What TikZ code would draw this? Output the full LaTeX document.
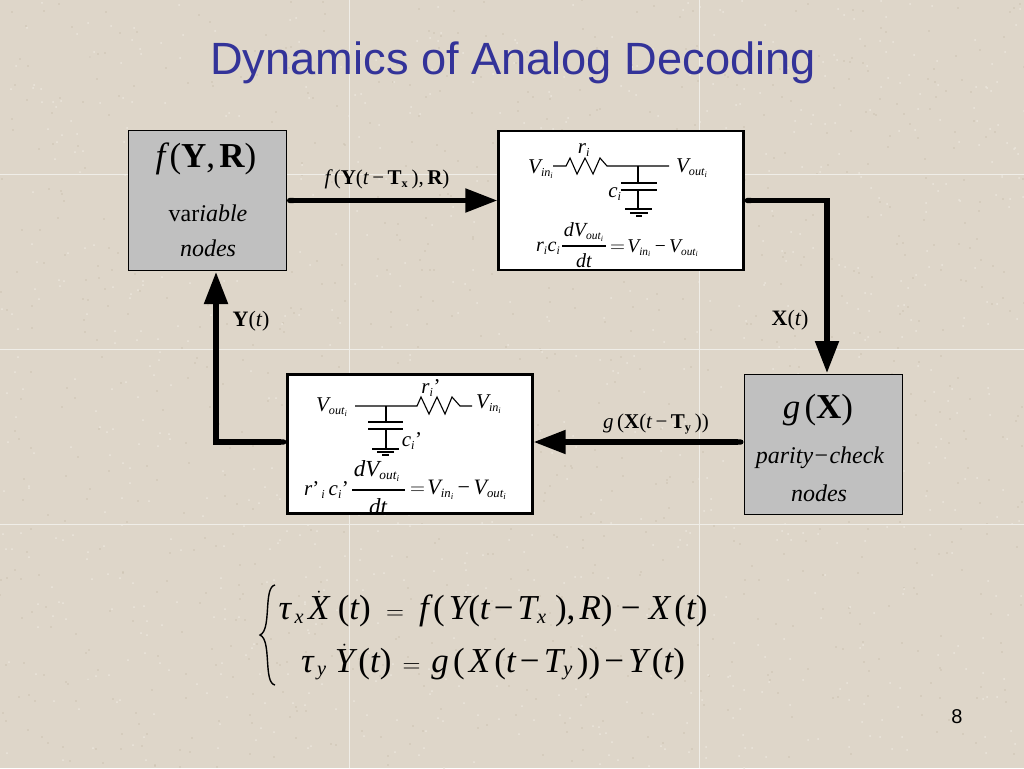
\documentclass[tikz,border=0pt]{standalone}
\usepackage{amsmath}
\usepackage{fontspec}
\setmainfont{Liberation Serif}
\usepackage[italic]{mathastext}
\newfontfamily\headfont{Liberation Sans}
\renewcommand{\defaultscriptratio}{.58}
\renewcommand{\defaultscriptscriptratio}{.4}
\usetikzlibrary{arrows.meta, positioning, calc}
\definecolor{slidecol}{RGB}{222,214,201}
\definecolor{speckdark}{RGB}{204,194,178}
\definecolor{specklight}{RGB}{235,230,220}
\definecolor{gridcol}{RGB}{240,238,232}
\definecolor{titlecol}{RGB}{51,51,153}
\definecolor{nodecol}{RGB}{192,192,192}
\newcommand{\fsz}[1]{\fontsize{#1}{#1}\selectfont}
\newcommand{\lp}{\mathopen{\text{\upshape(}}}
\newcommand{\rp}{\mathclose{\text{\upshape)}}}
\newcommand{\tick}{\text{\upshape'}}
\newcommand{\mn}{\text{\upshape−}}
\tikzset{
  varbox/.style={draw, fill=nodecol, line width=1pt, minimum width=158pt, minimum height=140pt, inner sep=0pt},
  circbox/.style={draw, fill=white, line width=2.4pt, minimum width=245pt, minimum height=139pt, inner sep=0pt},
  flow/.style={line width=5.2pt, {Round Cap}-{Triangle[length=32pt,width=23pt]}},
  wire/.style={line width=1.1pt},
  lab/.style={inner sep=0pt, font=\fsz{21}},
  nodetxt/.style={inner sep=0pt, font=\fsz{24}},
  bigeq/.style={inner sep=0pt, font=\fsz{35}}
}
\begin{document}
\begin{tikzpicture}[x=1pt, y=-1pt]
  \useasboundingbox (0,0) rectangle (1024,768);
  \fill[slidecol] (0,0) rectangle (1024,768);
  \pgfmathsetseed{8}
  \foreach \i in {1,...,900} {
    \pgfmathsetmacro{\xpos}{random(0,1024)}
    \pgfmathsetmacro{\ypos}{random(0,768)}
    \fill[speckdark] (\xpos,\ypos) circle (0.8pt);
    \pgfmathsetmacro{\xpos}{random(0,1024)}
    \pgfmathsetmacro{\ypos}{random(0,768)}
    \fill[specklight] (\xpos,\ypos) circle (1pt);
  }
  \foreach \xpos in {349,699}
    \draw[gridcol, line width=1pt] (\xpos,0) -- (\xpos,768);
  \foreach \ypos in {174,349,524}
    \draw[gridcol, line width=1pt] (0,\ypos) -- (1024,\ypos);

  \node[inner sep=0pt, text=titlecol, font=\headfont\fsz{45.2}] (title) at (513,63) {Dynamics of Analog Decoding};
  \node[inner sep=0pt, font=\headfont\fsz{20}] (pagenum) at (957,717) {8};

  \node[varbox] (var) at (207.5,200.5) {};
  \node[varbox] (parity) at (823,444) {};
  \node[circbox] (circa) at (621,200.5) {};
  \node[circbox] (circb) at (410,444) {};

  \node[bigeq] (varf) at (206,159) {$f\,\lp\mathbf{Y},\mathbf{R}\rp$};
  \node[nodetxt] (vartxt) at (208,213) {var\textit{iable}};
  \node[nodetxt] (varnd) at (208,248) {\textit{nodes}};
  \node[bigeq] (parg) at (818,410) {$g\,\lp\mathbf{X}\rp$};
  \node[nodetxt] (partxt) at (820,458) {$parity\mskip1mu\mn\mskip1mu check$};
  \node[nodetxt] (parnd) at (819,493) {\textit{nodes}};

  % feedback loop
  \coordinate (pn) at (827,373);
  \coordinate (vs) at (216,272);
  \draw[flow] (var.east) -- (circa.west);
  \draw[flow] (circa.east) -| (pn);
  \draw[flow] ([yshift=2pt]parity.west) -- ([yshift=2pt]circb.east);
  \draw[flow] ([yshift=2pt]circb.west) -| (vs);

  \node[lab] (lbla) at (387,179) {$f\,\lp\mathbf{Y}\lp t\,\mn\,\mathbf{T}_{\mathbf{x}}\,\rp,\mathbf{R}\rp$};
  \node[lab, font=\fsz{22}] (lblb) at (790,320) {$\mathbf{X}\lp t\rp$};
  \node[lab] (lblc) at (656,424) {$g\,\lp\mathbf{X}\lp t\,\mn\,\mathbf{T}_{\mathbf{y}}\,\rp\rp$};
  \node[lab, font=\fsz{22}] (lbld) at (251,321) {$\mathbf{Y}\lp t\rp$};

  % first circuit
  \draw[wire] (553,166) -- (566,166) -- (570,158) -- (577,174) -- (585,158) -- (593,174)
    -- (600,158) -- (607,166) -- (669,166);
  \draw[wire] (638,166) -- (638,183) (621,183) -- (657,183) (621,190) -- (657,190) (638,190) -- (638,209);
  \draw[wire] (625,209) -- (652,209) (630,213) -- (648,213) (636,216) -- (642,216);
  \node[lab] (vina) at (541,169) {$V_{in_i}$};
  \node[lab] (ra) at (584,150) {$r_i$};
  \node[lab] (vouta) at (692,168) {$V_{out_i}$};
  \node[lab] (ca) at (615,194) {$c_i$};
  \node[lab, font=\fsz{20}, anchor=west] (lhsa) at (536,248) {$r_ic_i$};
  \node[lab, font=\fsz{20}] (numa) at (584,232) {$dV_{out_i}$};
  \draw[wire] (562,246) -- (606,246);
  \node[lab, font=\fsz{20}] (dena) at (584,261) {$dt$};
  \node[lab, font=\fsz{19.5}, anchor=west] (rhsa) at (610,248) {$=\!V_{in_i}\,\mn\,V_{out_i}$};

  % second circuit
  \draw[wire] (355,406) -- (417,406) -- (421,397) -- (429,414) -- (437,397) -- (445,414)
    -- (452,397) -- (460,406) -- (472,406);
  \draw[wire] (386,406) -- (386,422) (368,422) -- (403,422) (368,429) -- (403,429) (386,429) -- (386,449);
  \draw[wire] (372,449) -- (399,449) (377,452) -- (394,452) (382,455) -- (389,455);
  \node[lab] (voutb) at (332,407) {$V_{out_i}$};
  \node[lab] (rb) at (431,388) {$r_i\tick$};
  \node[lab] (vinb) at (489,404) {$V_{in_i}$};
  \node[lab] (cb) at (412,441) {$c_i\tick$};
  \node[lab, anchor=west] (lhsb) at (304,490) {$r\tick_{\,i}\,c_i\tick$};
  \node[lab, font=\fsz{23}] (numb) at (377,471) {$dV_{out_i}$};
  \draw[wire] (352,490) -- (405,490);
  \node[lab, font=\fsz{23}] (denb) at (378,507) {$dt$};
  \node[lab, font=\fsz{22}, anchor=west] (rhsb) at (410,490) {$=\!V_{in_i}\,\mn\,V_{out_i}$};

  % system of equations
  \draw[line width=1.4pt] (275,585) .. controls (263,587) and (272,630) .. (260,635)
    .. controls (272,640) and (263,683) .. (275,685);
  \node[bigeq] (eqx) at (493,609)
    {$\textit{τ}_{\,x}\,\dot{X}\,\,\lp t\rp\,\,=\,\,f\,\lp\,Y\lp t\,\mn\,T_x\,\,\rp,R\rp\,\,\mn\,\,X\,\lp t\rp$};
  \node[bigeq] (eqy) at (493,662)
    {$\textit{τ}_{\,y}\,\,\dot{Y}\,\lp t\rp\,=\,g\,\lp\,X\,\lp t\,\mn\,T_y\,\rp\rp\,\mn\,Y\,\lp t\rp$};
\end{tikzpicture}
\end{document}
